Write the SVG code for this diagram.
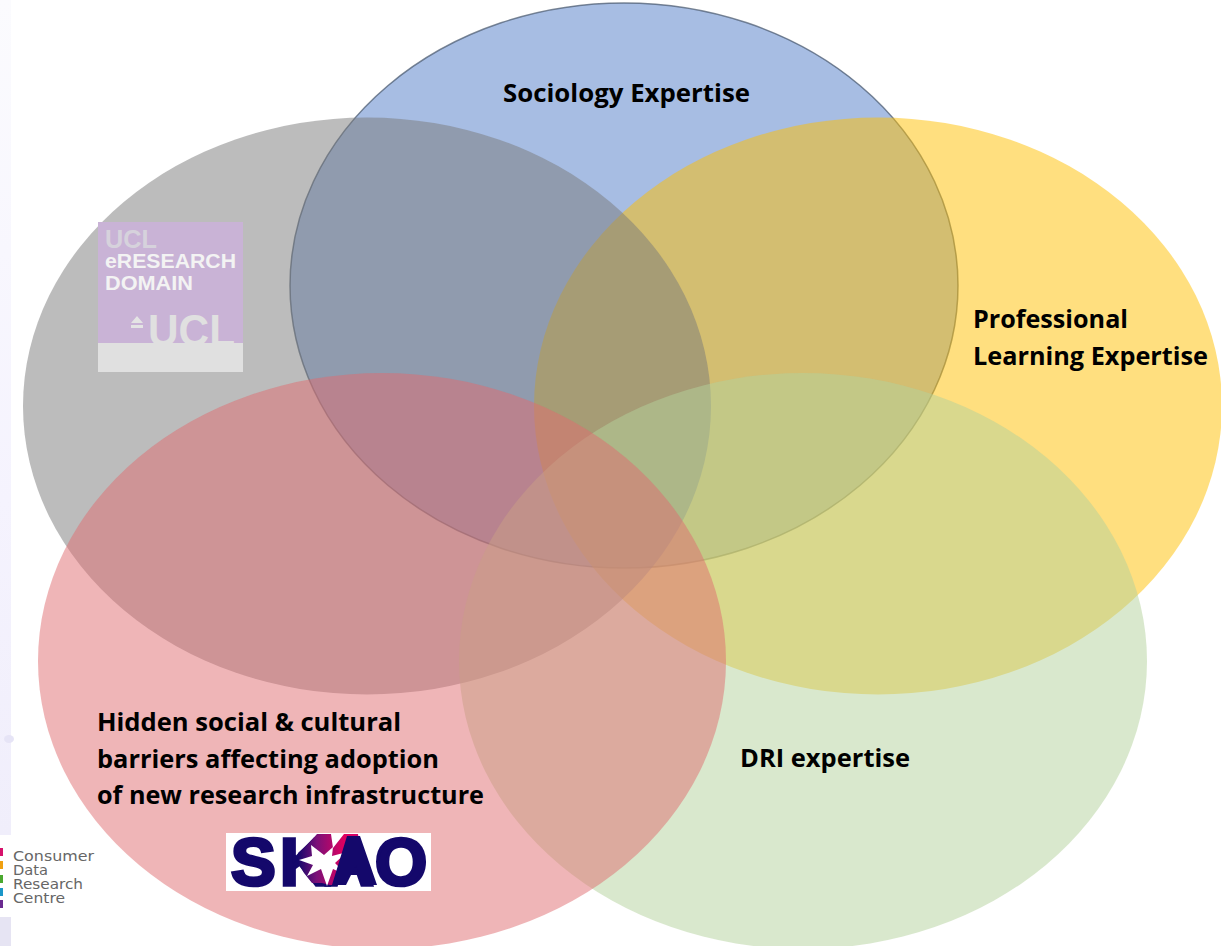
<svg xmlns="http://www.w3.org/2000/svg" width="1221" height="946" viewBox="0 0 1221 946">
<style>
.l{font-family:"Open Sans","Noto Sans","Liberation Sans",sans-serif;font-weight:700;font-size:25.5px;fill:#000}
.u{font-family:"Liberation Sans",Arial,sans-serif;font-weight:700}
.c{font-family:"DejaVu Sans","Liberation Sans",sans-serif;font-size:14.5px;fill:#666}
</style>
<defs>
<linearGradient id="strip" x1="0" y1="0" x2="0" y2="1"><stop offset="0" stop-color="#fbfbfe"/><stop offset="0.6" stop-color="#f5f3fe"/><stop offset="1" stop-color="#f0eefb"/></linearGradient>
<linearGradient id="star" x1="0" y1="0" x2="1" y2="0"><stop offset="0" stop-color="#14086b"/><stop offset="0.3" stop-color="#7a1078"/><stop offset="0.75" stop-color="#e0005f"/><stop offset="1" stop-color="#d0056a"/></linearGradient>
</defs>
<rect width="1221" height="946" fill="#fff"/>
<g id="background-strip">
<rect x="0" y="0" width="11" height="835" fill="url(#strip)"/>
<ellipse cx="9" cy="739" rx="5" ry="4" fill="#e6e4f6"/>
<rect x="0" y="917" width="11" height="29" fill="#e6e4f3"/>
</g>
<g id="blue-set"><ellipse cx="624" cy="285.5" rx="334" ry="282.5" fill="#4472c4" fill-opacity=".47" stroke="#44546a" stroke-opacity=".7" stroke-width="1.5"/></g>
<g id="yellow-set"><ellipse cx="878" cy="406" rx="344" ry="288.5" fill="#ffc000" fill-opacity=".5"/></g>
<g id="gray-set"><ellipse cx="367" cy="406" rx="344" ry="288.5" fill="#7a7a7a" fill-opacity=".5"/></g>
<g id="green-set"><ellipse cx="803" cy="661" rx="344" ry="288" fill="#b4d19b" fill-opacity=".5"/></g>
<g id="red-set"><ellipse cx="382" cy="661" rx="344" ry="288" fill="#df6c70" fill-opacity=".5"/></g>
<g id="ucl-logo">
<rect x="98" y="222" width="145" height="150" fill="#c9b3d6"/>
<rect x="98" y="343" width="145" height="29" fill="#e0e0e0"/>
<text class="u" x="105" y="248" font-size="25" fill="#d6d2dc" textLength="52" lengthAdjust="spacingAndGlyphs">UCL</text>
<text class="u" x="105" y="268" font-size="21" fill="#f3f3f3" textLength="131" lengthAdjust="spacingAndGlyphs">eRESEARCH</text>
<text class="u" x="105" y="290" font-size="21" fill="#f3f3f3" textLength="88" lengthAdjust="spacingAndGlyphs">DOMAIN</text>
<text class="u" x="148" y="346" font-size="44" fill="#e0e0e0" textLength="87" lengthAdjust="spacingAndGlyphs">UCL</text>
<path d="M131 323l6-7 6 7zM131 325h12v3h-12z" fill="#e4e4e4"/>
</g>
<g id="labels">
<text class="l" x="503" y="102" textLength="247" lengthAdjust="spacingAndGlyphs">Sociology Expertise</text>
<text class="l" x="973" y="328" textLength="155" lengthAdjust="spacingAndGlyphs">Professional</text>
<text class="l" x="973" y="365" textLength="235" lengthAdjust="spacingAndGlyphs">Learning Expertise</text>
<text class="l" x="740" y="767" textLength="170" lengthAdjust="spacingAndGlyphs">DRI expertise</text>
<text class="l" x="97" y="731" textLength="304" lengthAdjust="spacingAndGlyphs">Hidden social &amp; cultural</text>
<text class="l" x="97" y="768" textLength="342" lengthAdjust="spacingAndGlyphs">barriers affecting adoption</text>
<text class="l" x="97" y="804" textLength="387" lengthAdjust="spacingAndGlyphs">of new research infrastructure</text>
</g>
<g id="skao-logo">
<rect x="226" y="833" width="205" height="58" fill="#fff"/>
<text class="u" x="231 280 325 375" y="885" font-size="67" fill="#14086b" stroke="#14086b" stroke-width="3.5">SKAO</text>
<path d="M298 853l10-9 9-10h14l2 14 11-14h14l2 14-10 24-8 13h-12l-8-2-10 0-8-10-6-10z" fill="url(#star)"/>
<path d="M311 845l13 10 9-8-1 9 15-4-12 11 13 13-15-7-6 17-6-17-14 7 6-11-14-5 13-4z" fill="#fff"/>
<path d="M347 836h13l17 49h-15l-6-20-10 20h-14z" fill="#14086b"/>
</g>
<g id="cdrc-logo">
<rect x="0" y="848" width="3" height="8" fill="#d6126b"/>
<rect x="0" y="861" width="3" height="8" fill="#f0a010"/>
<rect x="0" y="875" width="3" height="8" fill="#4aa82e"/>
<rect x="0" y="888" width="3" height="8" fill="#1a96c8"/>
<rect x="0" y="900" width="3" height="8" fill="#6a2a90"/>
<text class="c" x="13" y="861" textLength="81" lengthAdjust="spacingAndGlyphs">Consumer</text>
<text class="c" x="13" y="875" textLength="35" lengthAdjust="spacingAndGlyphs">Data</text>
<text class="c" x="13" y="889" textLength="70" lengthAdjust="spacingAndGlyphs">Research</text>
<text class="c" x="13" y="903" textLength="52" lengthAdjust="spacingAndGlyphs">Centre</text>
</g>
</svg>
